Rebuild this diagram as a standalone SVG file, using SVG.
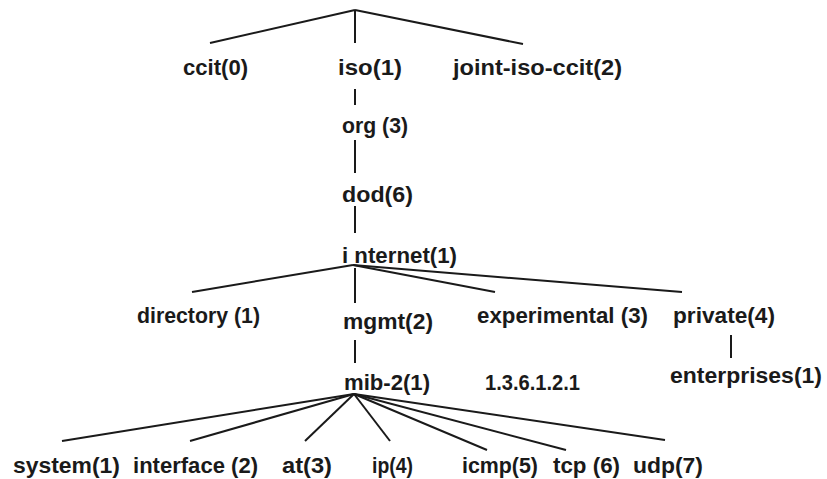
<svg xmlns="http://www.w3.org/2000/svg" width="827" height="479" viewBox="0 0 827 479">
  <style>
    .lbl { font-family: "Liberation Sans", Arial, sans-serif; font-weight: bold; font-size: 22px; fill: #1a1a1a; }
    .edge { stroke: #1a1a1a; stroke-width: 2; fill: none; stroke-linecap: butt; }
  </style>
  <rect width="827" height="479" fill="#ffffff"/>

  <!-- tree edges -->
  <g id="connectors">
    <!-- root -->
    <line class="edge" x1="355" y1="10" x2="210" y2="43"/>
    <line class="edge" x1="355" y1="10" x2="355" y2="43"/>
    <line class="edge" x1="355" y1="10" x2="523" y2="44"/>
    <!-- iso / org / dod -->
    <line class="edge" x1="355" y1="89" x2="355" y2="105"/>
    <line class="edge" x1="355" y1="140" x2="355" y2="173"/>
    <line class="edge" x1="355" y1="206" x2="355" y2="233"/>
    <!-- internet -->
    <line class="edge" x1="353" y1="265" x2="192" y2="292"/>
    <line class="edge" x1="355" y1="268" x2="355" y2="303"/>
    <line class="edge" x1="353" y1="265" x2="495" y2="292"/>
    <line class="edge" x1="353" y1="265" x2="682" y2="292"/>
    <!-- mgmt / private -->
    <line class="edge" x1="355" y1="340" x2="355" y2="363"/>
    <line class="edge" x1="731" y1="335" x2="731" y2="358"/>
    <!-- mib-2 -->
    <line class="edge" x1="354" y1="394" x2="62" y2="441"/>
    <line class="edge" x1="354" y1="394" x2="190" y2="441"/>
    <line class="edge" x1="354" y1="394" x2="305" y2="441"/>
    <line class="edge" x1="354" y1="394" x2="390" y2="441"/>
    <line class="edge" x1="354" y1="394" x2="487" y2="450"/>
    <line class="edge" x1="354" y1="394" x2="566" y2="450"/>
    <line class="edge" x1="354" y1="394" x2="665" y2="440"/>
  </g>

  <!-- nodes -->
  <g id="ccit"><text class="lbl" x="183" y="75" textLength="65" lengthAdjust="spacingAndGlyphs">ccit(0)</text></g>
  <g id="iso"><text class="lbl" x="338" y="75" textLength="64" lengthAdjust="spacingAndGlyphs">iso(1)</text></g>
  <g id="joint-iso-ccit"><text class="lbl" x="453" y="75" textLength="169" lengthAdjust="spacingAndGlyphs">joint-iso-ccit(2)</text></g>
  <g id="org"><text class="lbl" x="342" y="133" textLength="66" lengthAdjust="spacingAndGlyphs">org (3)</text></g>
  <g id="dod"><text class="lbl" x="342" y="202" textLength="71" lengthAdjust="spacingAndGlyphs">dod(6)</text></g>
  <g id="internet"><text class="lbl" x="342" y="263" textLength="115" lengthAdjust="spacingAndGlyphs">i nternet(1)</text></g>
  <g id="directory"><text class="lbl" x="137" y="323" textLength="123" lengthAdjust="spacingAndGlyphs">directory (1)</text></g>
  <g id="mgmt"><text class="lbl" x="343" y="329" textLength="90" lengthAdjust="spacingAndGlyphs">mgmt(2)</text></g>
  <g id="experimental"><text class="lbl" x="477" y="323" textLength="171" lengthAdjust="spacingAndGlyphs">experimental (3)</text></g>
  <g id="private"><text class="lbl" x="673" y="323" textLength="102" lengthAdjust="spacingAndGlyphs">private(4)</text></g>
  <g id="mib-2"><text class="lbl" x="344" y="390" textLength="86" lengthAdjust="spacingAndGlyphs">mib-2(1)</text></g>
  <g id="oid"><text class="lbl" x="485" y="390" textLength="95" lengthAdjust="spacingAndGlyphs">1.3.6.1.2.1</text></g>
  <g id="enterprises"><text class="lbl" x="670" y="383" textLength="152" lengthAdjust="spacingAndGlyphs">enterprises(1)</text></g>
  <g id="system"><text class="lbl" x="13" y="473" textLength="107" lengthAdjust="spacingAndGlyphs">system(1)</text></g>
  <g id="interface"><text class="lbl" x="133" y="473" textLength="125" lengthAdjust="spacingAndGlyphs">interface (2)</text></g>
  <g id="at"><text class="lbl" x="282" y="473" textLength="50" lengthAdjust="spacingAndGlyphs">at(3)</text></g>
  <g id="ip"><text class="lbl" x="372" y="473" textLength="41" lengthAdjust="spacingAndGlyphs">ip(4)</text></g>
  <g id="icmp"><text class="lbl" x="462" y="473" textLength="76" lengthAdjust="spacingAndGlyphs">icmp(5)</text></g>
  <g id="tcp"><text class="lbl" x="553" y="473" textLength="67" lengthAdjust="spacingAndGlyphs">tcp (6)</text></g>
  <g id="udp"><text class="lbl" x="633" y="473" textLength="70" lengthAdjust="spacingAndGlyphs">udp(7)</text></g>
</svg>
